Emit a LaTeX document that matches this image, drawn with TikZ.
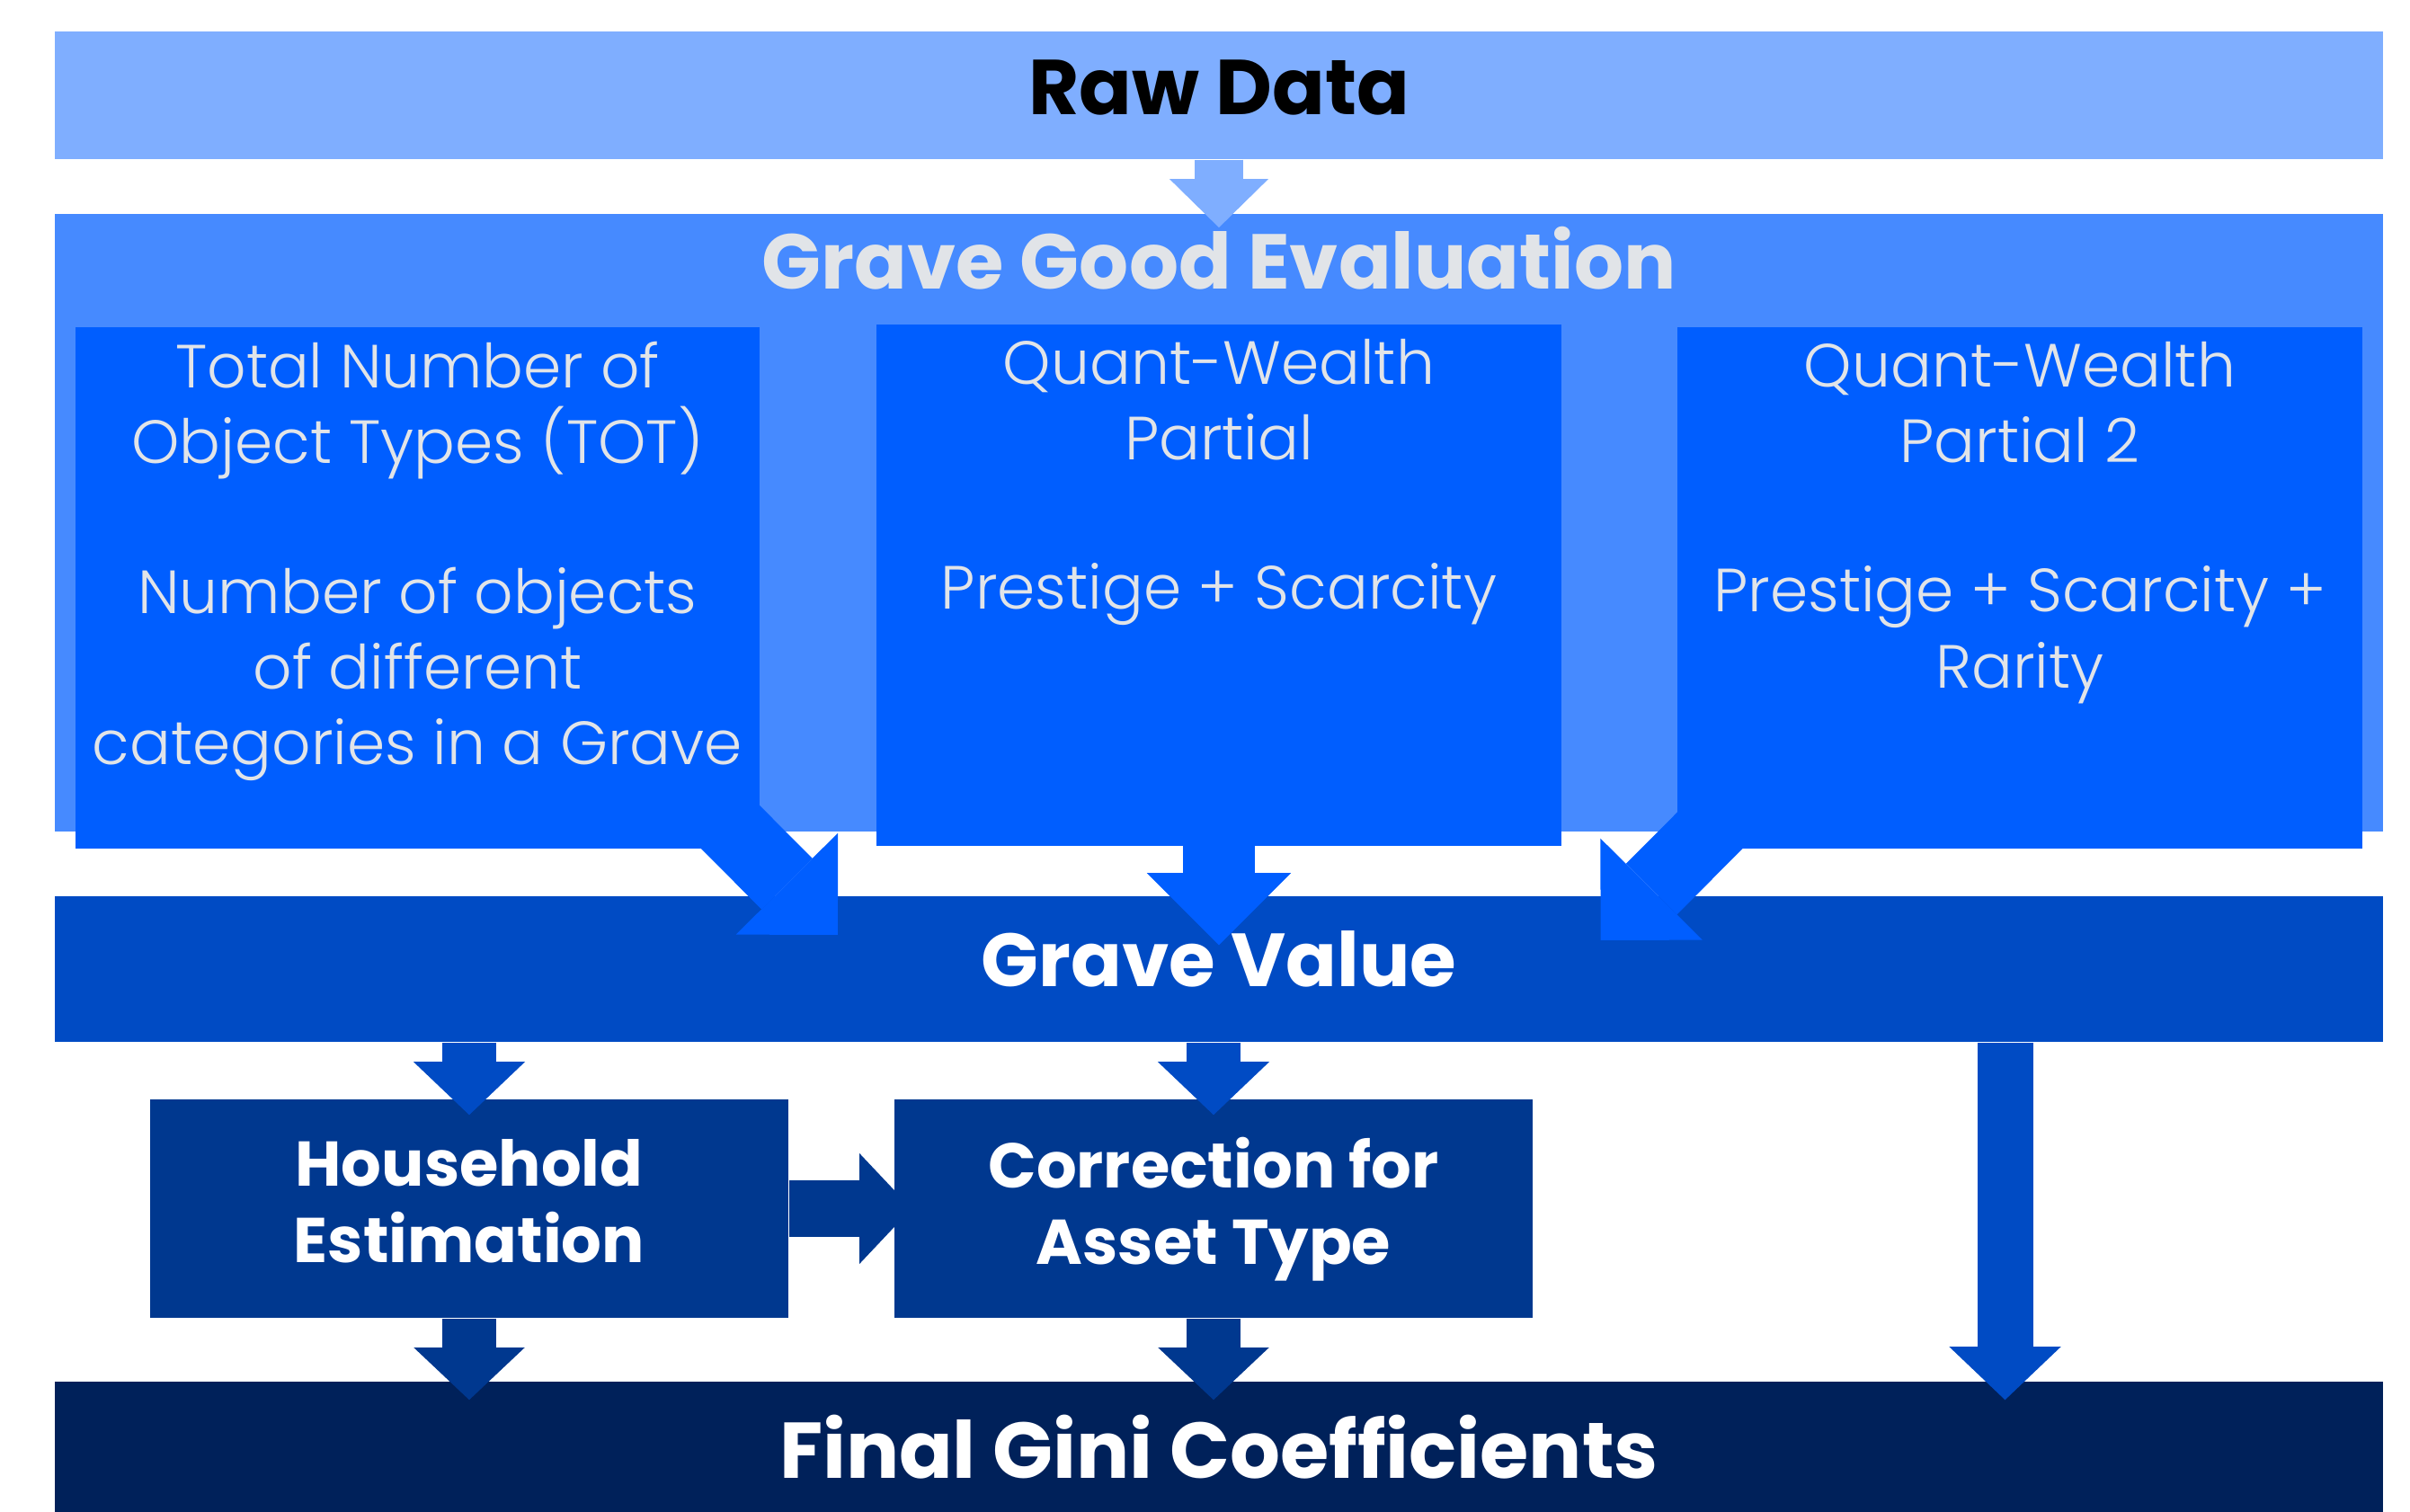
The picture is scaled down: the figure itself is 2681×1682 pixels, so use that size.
\documentclass[tikz,border=0pt]{standalone}
\usepackage{fontspec}
\setmainfont{Poppins}
\newfontfamily\partfont{Poppins Light}
\usetikzlibrary{arrows.meta}

\definecolor{rawblue}{HTML}{7FAEFF}
\definecolor{evalblue}{HTML}{468AFF}
\definecolor{partblue}{HTML}{005EFF}
\definecolor{valueblue}{HTML}{004BC4}
\definecolor{stepblue}{HTML}{00388F}
\definecolor{giniblue}{HTML}{00215A}
\definecolor{textgrey}{HTML}{E1E4E8}

\tikzset{
  bar/.style={rectangle, inner sep=0pt, minimum width=25.89cm, font=\fontsize{24.6}{29}\selectfont\bfseries},
  part/.style={rectangle, fill=partblue, inner sep=0pt, minimum width=7.61cm, minimum height=5.8cm},
  parttext/.style={anchor=north, align=center, inner sep=0pt, text=textgrey, font=\fontsize{19.3}{24}\selectfont\partfont},
  stepbox/.style={rectangle, fill=stepblue, inner sep=0pt, minimum width=7.1cm, minimum height=2.43cm, text=white, align=center, text depth=0.17cm, font=\fontsize{20}{24}\selectfont\bfseries},
  bigarrow/.style={partblue, line width=8mm, -{Triangle[length=8mm,width=16mm,line width=0pt]}},
  valuearrow/.style={valueblue, line width=6mm, -{Triangle[length=5.9mm,width=12.4mm,line width=0pt]}},
  steparrow/.style={stepblue, line width=6mm, -{Triangle[length=5.8mm,width=12.3mm,line width=0pt]}}
}

\begin{document}
\begin{tikzpicture}[x=0.01cm,y=0.01cm]
\useasboundingbox (0,0) rectangle (2681,-1682);

\node[bar, fill=rawblue, minimum height=1.42cm, text depth=0.17cm] (raw) at (1356,-106) {Raw Data};
\node[bar, fill=evalblue, minimum height=6.87cm] (eval) at (1356,-581.5) {};
\node[bar, text=textgrey, minimum width=0pt] (evaltitle) at (1356,-287) {Grave Good Evaluation};

\node[part] (tot) at (464.5,-654) {};
\node[part, minimum height=5.795cm] (qwp) at (1356,-650.75) {};
\node[part] (qwp2) at (2247,-654) {};
\node[parttext] (tottext) at ([yshift=-0.16cm]tot.north) {Total Number of\\Object Types (TOT)\\[0.82cm]Number of objects\\of different\\categories in a Grave};
\node[parttext] (qwptext) at ([yshift=-0.16cm]qwp.north) {Quant-Wealth\\Partial\\[0.82cm]Prestige + Scarcity};
\node[parttext] (qwp2text) at ([yshift=-0.16cm]qwp2.north) {Quant-Wealth\\Partial 2\\[0.82cm]Prestige + Scarcity +\\Rarity};

\node[bar, fill=valueblue, text=white, minimum height=1.62cm, text depth=0.22cm, font=\fontsize{23.8}{29}\selectfont\bfseries] (value) at (1356,-1078) {Grave Value};
\node[stepbox] (house) at (522,-1344.5) {Household\\Estimation};
\node[stepbox] (asset) at (1350,-1344.5) {Correction for\\Asset Type};
\node[bar, fill=giniblue, text=white, minimum height=1.45cm, font=\fontsize{25}{29}\selectfont\bfseries] (gini) at (1356,-1609.5) {Final Gini Coefficients};

\draw[rawblue, line width=5.4mm, -{Triangle[length=5.4mm,width=11mm,line width=0pt]}] (raw.south) -- ([yshift=-0.16cm]eval.north);

\draw[bigarrow] ([shift={(-60.5,52)}]tot.south east) -- ([shift={(86,-95)}]tot.south east);
\draw[bigarrow] (qwp.south) -- ([yshift=-0.55cm]value.north);
\draw[bigarrow] ([shift={(62,46.5)}]qwp2.south west) -- ([shift={(-85,-101)}]qwp2.south west);

\draw[valuearrow] (value.south -| house) -- ([yshift=-0.18cm]house.north);
\draw[valuearrow] (value.south -| asset) -- ([yshift=-0.18cm]asset.north);
\draw[valuearrow, line width=6.2mm] ([xshift=8.74cm]value.south) -- ([xshift=8.74cm,yshift=-0.21cm]gini.north);

\draw[steparrow, line width=6.3mm] (house.east) -- ([xshift=0.2cm]asset.west);
\draw[steparrow] (house.south) -- ([yshift=-0.21cm]gini.north -| house);
\draw[steparrow] (asset.south) -- ([yshift=-0.21cm]gini.north -| asset);
\end{tikzpicture}
\end{document}
